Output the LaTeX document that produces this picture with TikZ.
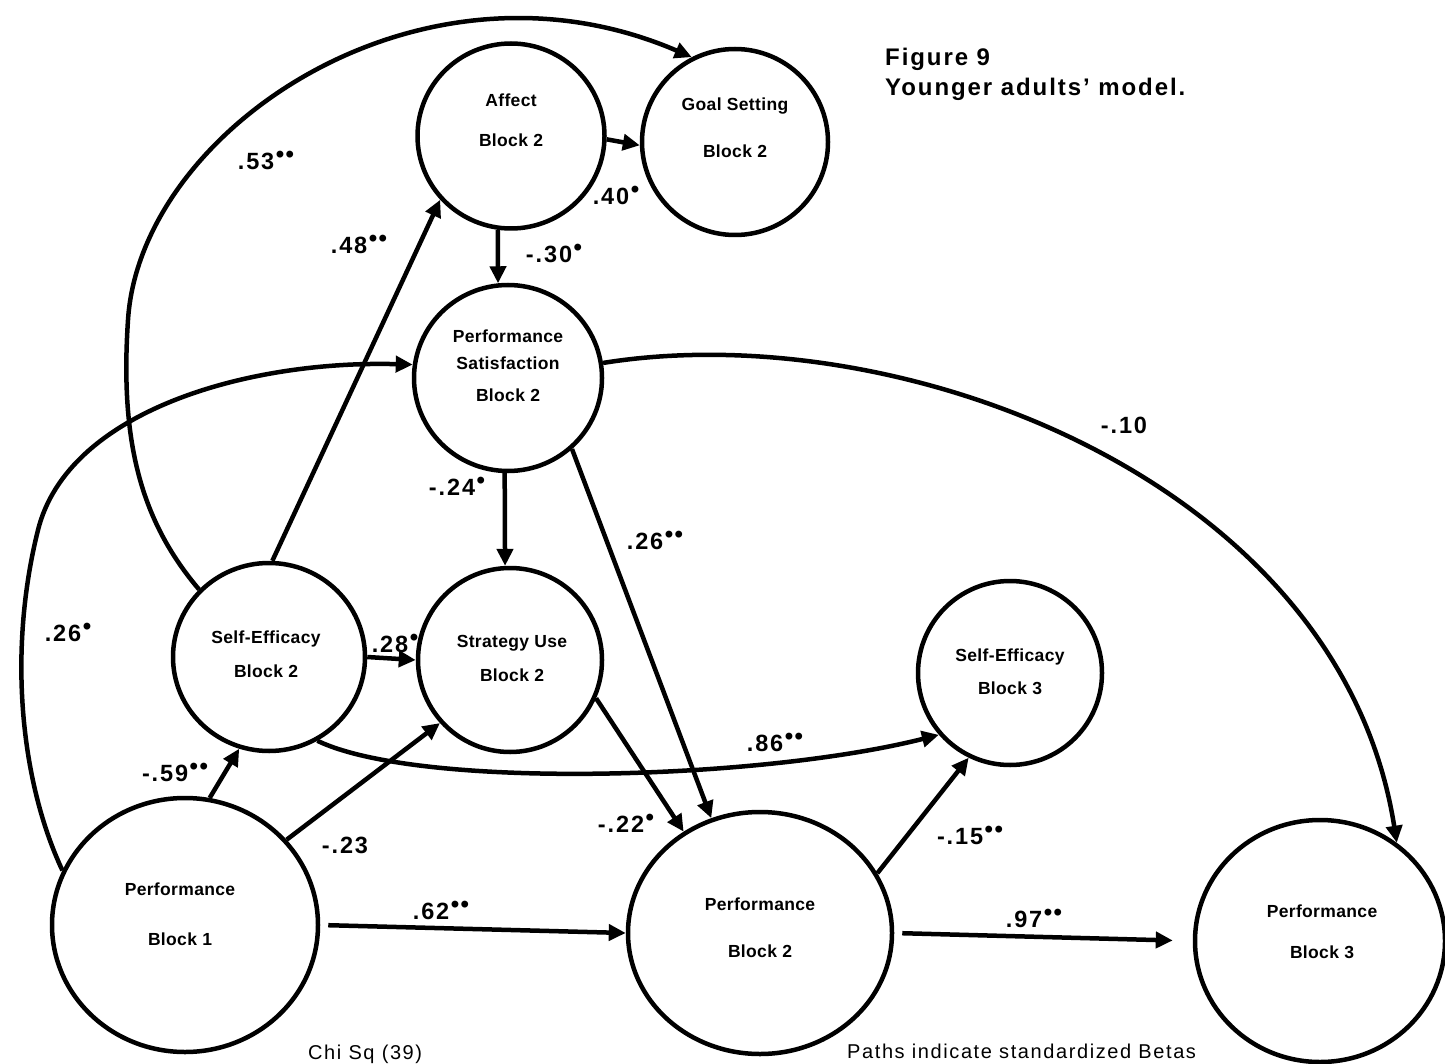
\documentclass[tikz,border=0pt]{standalone}
\usepackage{fontspec}
\setmainfont{Liberation Sans}[LetterSpace=8]
\newfontfamily\nodefont{Liberation Sans}[LetterSpace=2]
\usetikzlibrary{arrows.meta,shapes.geometric}
% raised dot used for significance marks
\newcommand\sgdot{\kern1.5pt\raisebox{0.3em}{\fontsize{24}{24}\selectfont\textbullet}}
\begin{document}
\begin{tikzpicture}[x=1pt,y=-1pt,
  blob/.style 2 args={draw, ellipse, line width=4.5pt, inner sep=0pt,
    minimum width=#1, minimum height=#2},
  ntext/.style={font=\nodefont\fontsize{17.5}{20}\selectfont\bfseries,
    align=center, inner sep=0pt},
  coef/.style={font=\fontsize{23.5}{23.5}\selectfont\bfseries, inner sep=0pt},
  link/.style={line width=4.5pt, -{Triangle[length=17pt,width=16pt]}},
]
\useasboundingbox (0,0) rectangle (1445,1064);

% construct circles
\node[blob={187pt}{185pt}] (aff) at (511,136) {};
\node[blob={186pt}{186pt}] (gs)  at (735,142) {};
\node[blob={188pt}{186pt}] (ps)  at (508,378) {};
\node[blob={192pt}{188pt}] (se2) at (269,657) {};
\node[blob={184pt}{184pt}] (su)  at (510,660) {};
\node[blob={184pt}{184pt}] (se3) at (1010,673) {};
\node[blob={266pt}{254pt}] (p1)  at (185,925) {};
\node[blob={264pt}{242pt}] (p2)  at (760,933) {};
\node[blob={250pt}{242pt}] (p3)  at (1320,941) {};

% construct names
\node[ntext] (affT) at (511,120) {Affect\\[20pt]Block 2};
\node[ntext] (gsT)  at (735,128) {Goal Setting\\[27pt]Block 2};
\node[ntext] (psT)  at (508,366) {Performance\\[7pt]Satisfaction\\[12pt]Block 2};
\node[ntext] (se2T) at (266,654) {Self-Efficacy\\[14pt]Block 2};
\node[ntext] (suT)  at (512,658) {Strategy Use\\[14pt]Block 2};
\node[ntext] (se3T) at (1010,672) {Self-Efficacy\\[13pt]Block 3};
\node[ntext] (p1T)  at (180,914) {Performance\\[30pt]Block 1};
\node[ntext] (p2T)  at (760,928) {Performance\\[27pt]Block 2};
\node[ntext] (p3T)  at (1322,932) {Performance\\[21pt]Block 3};

% curved paths
\draw[link] (se2.136) .. controls (140,520) and (120,440) .. (128,320)
  .. controls (140,130) and (420,-60) .. (gs.117);
\draw[link] (p1.156) .. controls (20,780) and (8,650) .. (38,530)
  .. controls (68,410) and (250,360) .. (ps.172);
\draw[link] (ps.9) .. controls (900,315) and (1340,480) .. (p3.52);
\draw[link] (se2.-60) .. controls (420,790) and (760,780) .. (se3.221);

% straight paths
\draw[link] (aff.-2) -- (gs.182);
\draw[link] (aff.-98) -- (ps.96);
\draw[link] (se2.88) -- (aff.222);
\draw[link] (ps.-92) -- (su.93);
\draw[link] (ps.-48) -- (p2.113);
\draw[link] (se2.east) -- (su.west);
\draw[link] (p1.79) -- (se2.252);
\draw[link] (p1.40) -- (su.222);
\draw[link] (su.-24) -- (p2.127);
\draw[link, shorten <=8pt] (p1.east) -- (p2.west);
\draw[link] (p2.27.5) -- (se3.244);
\draw[link, shorten <=8pt, shorten >=20pt] (p2.east) -- (p3.west);

% path coefficients
\node[coef] (c53) at (266,160) {.53\sgdot\sgdot};
\node[coef] (c40) at (616,195) {.40\sgdot};
\node[coef] (c30) at (554,253) {-.30\sgdot};
\node[coef] (c48) at (359,244) {.48\sgdot\sgdot};
\node[coef] (c26a) at (68,632) {.26\sgdot};
\node[coef] (c10) at (1124,425) {-.10};
\node[coef] (c24) at (457,486) {-.24\sgdot};
\node[coef] (c26b) at (655,540) {.26\sgdot\sgdot};
\node[coef] (c28) at (395,643) {.28\sgdot};
\node[coef] (c86) at (775,742) {.86\sgdot\sgdot};
\node[coef] (c59) at (175,772) {-.59\sgdot\sgdot};
\node[coef] (c23) at (345,845) {-.23};
\node[coef] (c22) at (626,823) {-.22\sgdot};
\node[coef] (c62) at (441,910) {.62\sgdot\sgdot};
\node[coef] (c15) at (970,835) {-.15\sgdot\sgdot};
\node[coef] (c97) at (1034,918) {.97\sgdot\sgdot};

% caption and notes
\node[anchor=north west, inner sep=0pt, align=left,
  font=\fontsize{24}{30}\selectfont\bfseries] (title) at (885,48)
  {Figure 9\\Younger adults' model.};
\node[anchor=base west, inner sep=0pt, font=\fontsize{20}{20}\selectfont]
  (note) at (847,1058) {Paths indicate standardized Betas};
\node[anchor=base west, inner sep=0pt, font=\fontsize{20}{20}\selectfont]
  (chi) at (308,1059) {Chi Sq (39)};
\end{tikzpicture}
\end{document}
